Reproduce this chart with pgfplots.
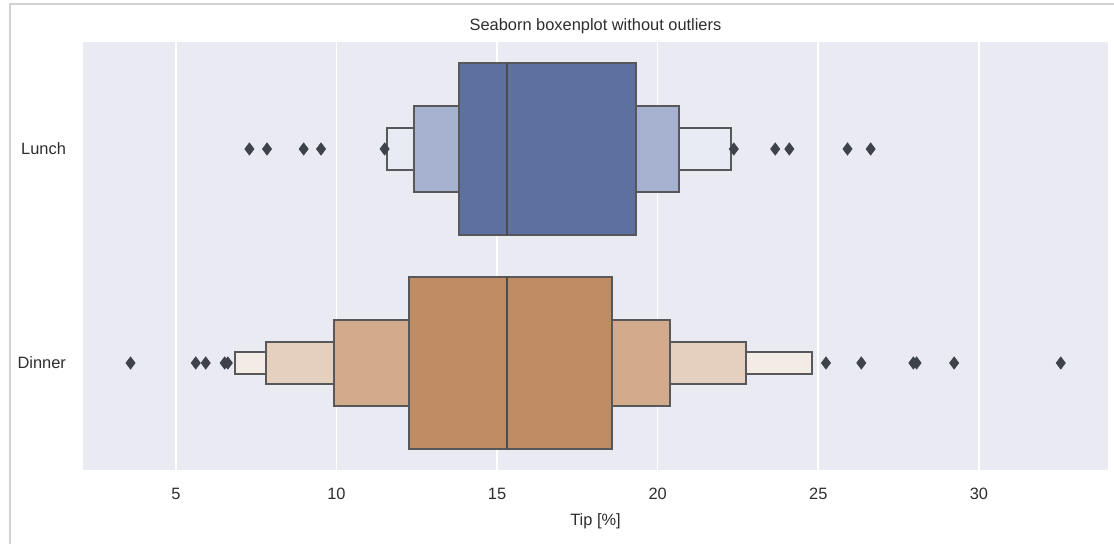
\documentclass[border=0pt]{standalone}
\usepackage{pgfplots}
\pgfplotsset{compat=1.18}
\usepackage{fontspec}
\setmainfont{Liberation Sans}
\definecolor{panel}{RGB}{234,234,242}
\definecolor{txt}{RGB}{45,45,45}
\definecolor{edge}{RGB}{88,88,90}
\definecolor{flier}{RGB}{62,66,74}
\definecolor{lA}{RGB}{93,113,160}
\definecolor{lB}{RGB}{165,177,206}
\definecolor{lC}{RGB}{232,235,244}
\definecolor{dA}{RGB}{191,139,98}
\definecolor{dB}{RGB}{210,170,140}
\definecolor{dC}{RGB}{229,207,190}
\definecolor{dD}{RGB}{243,235,229}
\begin{document}
\begin{tikzpicture}
\path[use as bounding box] (0,0) rectangle (557pt,272pt);
\draw[gray!35, line width=0.6pt] (5pt,0) -- (5pt,270pt) -- (557pt,270pt);
\begin{axis}[
  at={(41.5pt,37pt)}, anchor=south west,
  width=512.5pt, height=214pt, scale only axis,
  xmin=2.11, xmax=34.02, ymin=-0.5, ymax=1.5, y dir=reverse,
  axis background/.style={fill=panel},
  axis line style={draw=none},
  major tick length=0pt,
  xtick={5,10,15,20,25,30},
  ytick={0,1}, yticklabels={Lunch,Dinner},
  xmajorgrids, grid style={white, line width=0.8pt},
  ymajorgrids=false,
  font=\fontsize{8.2}{10}\selectfont,
  /pgf/number format/assume math mode=true,
  tick label style={text=txt},
  xticklabel style={yshift=-5.5pt},
  yticklabel style={xshift=-5pt},
  xlabel={Tip [\%]}, xlabel style={text=txt, yshift=0pt},
  title={Seaborn boxenplot without outliers},
  title style={text=txt, at={(0.5,1)}, anchor=south, yshift=-5.5pt},
  clip=false,
]
% outliers
\addplot[only marks, mark=diamond*, mark size=3pt, color=flier] coordinates {
 (7.29,0) (7.84,0) (8.98,0) (9.52,0) (11.50,0)
 (22.37,0) (23.66,0) (24.10,0) (25.91,0) (26.63,0)};
\addplot[only marks, mark=diamond*, mark size=3pt, color=flier] coordinates {
 (3.59,1) (5.62,1) (5.93,1) (6.52,1) (6.62,1)
 (25.24,1) (26.34,1) (27.96,1) (28.06,1) (29.23,1) (32.55,1)};
% Lunch boxes
\addplot[fill=lC, draw=edge, line width=1pt] coordinates {(11.56,-0.1) (22.27,-0.1) (22.27,0.1) (11.56,0.1)} -- cycle;
\addplot[fill=lB, draw=edge, line width=1pt] coordinates {(12.42,-0.2) (20.67,-0.2) (20.67,0.2) (12.42,0.2)} -- cycle;
\addplot[fill=lA, draw=edge, line width=1pt] coordinates {(13.83,-0.4) (19.34,-0.4) (19.34,0.4) (13.83,0.4)} -- cycle;
\addplot[draw=edge!85!black, line width=1pt] coordinates {(15.32,-0.4) (15.32,0.4)};
% Dinner boxes
\addplot[fill=dD, draw=edge, line width=1pt] coordinates {(6.84,0.95) (24.79,0.95) (24.79,1.05) (6.84,1.05)} -- cycle;
\addplot[fill=dC, draw=edge, line width=1pt] coordinates {(7.82,0.9) (22.74,0.9) (22.74,1.1) (7.82,1.1)} -- cycle;
\addplot[fill=dB, draw=edge, line width=1pt] coordinates {(9.92,0.8) (20.38,0.8) (20.38,1.2) (9.92,1.2)} -- cycle;
\addplot[fill=dA, draw=edge, line width=1pt] coordinates {(12.25,0.6) (18.58,0.6) (18.58,1.4) (12.25,1.4)} -- cycle;
\addplot[draw=edge!85!black, line width=1pt] coordinates {(15.32,0.6) (15.32,1.4)};
\end{axis}
\end{tikzpicture}
\end{document}
